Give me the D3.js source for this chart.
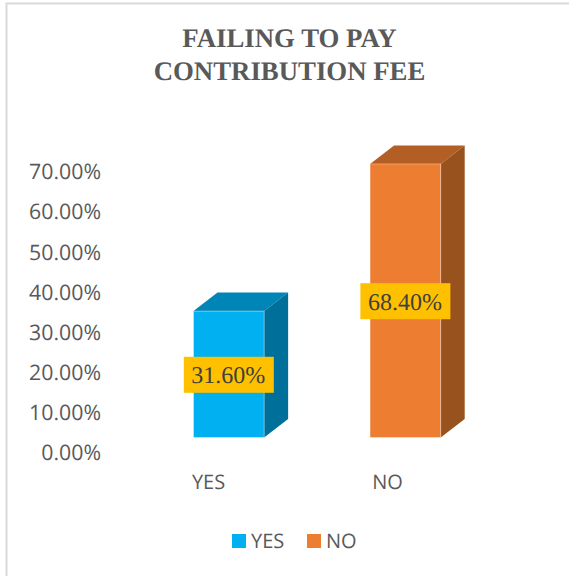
<!DOCTYPE html>
<html>
<head>
<meta charset="utf-8">
<script src="https://cdn.jsdelivr.net/npm/d3@7"></script>
<style>
html,body{margin:0;padding:0;background:#fff;}
svg{display:block;text-rendering:geometricPrecision;}
.tick text{fill:#595959;font-family:"Open Sans",sans-serif;}
</style>
</head>
<body>
<div id="chart"></div>
<script>
var categories = ["YES","NO"];
var values = [31.6,68.4];
var tickValues = [0,10,20,30,40,50,60,70];
var titleLines = ["FAILING TO PAY","CONTRIBUTION FEE"];
var frontColors = ["#00b0f0","#ed7d31"];
var topColors = ["#0085b6","#b25e25"];
var sideColors = ["#00709a","#97521e"];

var width = 569, height = 576;
var depthX = 24, depthY = 18.5;

var svg = d3.select("#chart").append("svg")
	.attr("width",width)
	.attr("height",height);

// frame, only top and left show in the picture
svg.append("path")
	.attr("d","M6.5,576V3.5H569")
	.attr("fill","none")
	.attr("stroke","#d9d9d9")
	.attr("stroke-width",2);

var title = svg.append("text")
	.attr("text-anchor","middle")
	.attr("font-family","'Liberation Serif',serif")
	.attr("font-weight","bold")
	.attr("font-size",26.8)
	.attr("fill","#595959");
title.selectAll("tspan").data(titleLines).enter().append("tspan")
	.attr("x",289.5)
	.attr("y",function(d,i){return 47+i*33;})
	.text(function(d){return d;});

var x = d3.scaleBand().domain(categories).range([193.5,440.7]).paddingInner(0.6);
var y = d3.scaleLinear().domain([0,70]).range([437.5,157.5]);
// axis labels sit lower than the bar floor and with a slightly other step
var yAxisScale = d3.scaleLinear().domain([0,70]).range([453,172]);
var xAxisScale = d3.scalePoint().domain(categories).range([208,387]);

var yAxis = svg.append("g")
	.attr("transform","translate(107,0)")
	.call(d3.axisLeft(yAxisScale).tickValues(tickValues).tickSize(0).tickPadding(6)
		.tickFormat(function(d){return d3.format(".2f")(d)+"%";}));
yAxis.select(".domain").remove();
yAxis.selectAll("text").attr("font-size",21.3);

var xAxis = svg.append("g")
	.attr("transform","translate(0,475)")
	.call(d3.axisBottom(xAxisScale).tickSize(0).tickPadding(0));
xAxis.select(".domain").remove();
xAxis.selectAll("text").attr("font-size",20);

var bars = svg.selectAll("g.bar")
	.data(categories.map(function(c,i){return {cat:c,val:values[i],i:i};}))
	.enter().append("g")
	.classed("bar",true);

bars.append("path")
	.attr("fill",function(d){return topColors[d.i];})
	.attr("d",function(d){
		var l=x(d.cat), r=l+x.bandwidth(), t=y(d.val);
		return "M"+l+","+t+"L"+(l+depthX)+","+(t-depthY)+"L"+(r+depthX)+","+(t-depthY)+"L"+r+","+t+"Z";
	});
bars.append("path")
	.attr("fill",function(d){return sideColors[d.i];})
	.attr("d",function(d){
		var r=x(d.cat)+x.bandwidth(), t=y(d.val), b=y(0);
		return "M"+r+","+t+"L"+(r+depthX)+","+(t-depthY)+"L"+(r+depthX)+","+(b-depthY)+"L"+r+","+b+"Z";
	});
bars.append("rect")
	.attr("x",function(d){return x(d.cat);})
	.attr("y",function(d){return y(d.val);})
	.attr("width",x.bandwidth())
	.attr("height",function(d){return y(0)-y(d.val);})
	.attr("fill",function(d){return frontColors[d.i];})
	.attr("stroke","#fff")
	.attr("stroke-opacity",0.35);

// data labels on the middle of the front face
var labels = svg.selectAll("g.dataLabel")
	.data(categories.map(function(c,i){return {cat:c,val:values[i]};}))
	.enter().append("g")
	.classed("dataLabel",true)
	.attr("transform",function(d){
		return "translate("+(x(d.cat)+x.bandwidth()/2)+","+((y(d.val)+y(0))/2+0.5)+")";
	});
labels.append("rect")
	.attr("x",-45)
	.attr("y",-18)
	.attr("width",90)
	.attr("height",36)
	.attr("fill","#ffc000");
labels.append("text")
	.attr("x",-0.5)
	.attr("text-anchor","middle")
	.attr("dy","0.35em")
	.attr("font-family","'Liberation Serif',serif")
	.attr("font-size",24)
	.attr("fill","#404040")
	.text(function(d){return d3.format(".2f")(d.val)+"%";});

// legend
var legendX = [232,307];
var legend = svg.selectAll("g.legend")
	.data(categories)
	.enter().append("g")
	.classed("legend",true)
	.attr("transform",function(d,i){return "translate("+legendX[i]+",534)";});
legend.append("rect")
	.attr("width",14)
	.attr("height",14)
	.attr("fill",function(d,i){return frontColors[i];});
legend.append("text")
	.attr("x",19)
	.attr("y",14)
	.attr("font-family","'Open Sans',sans-serif")
	.attr("font-size",20)
	.attr("fill","#595959")
	.text(function(d){return d;});
</script>
</body>
</html>
